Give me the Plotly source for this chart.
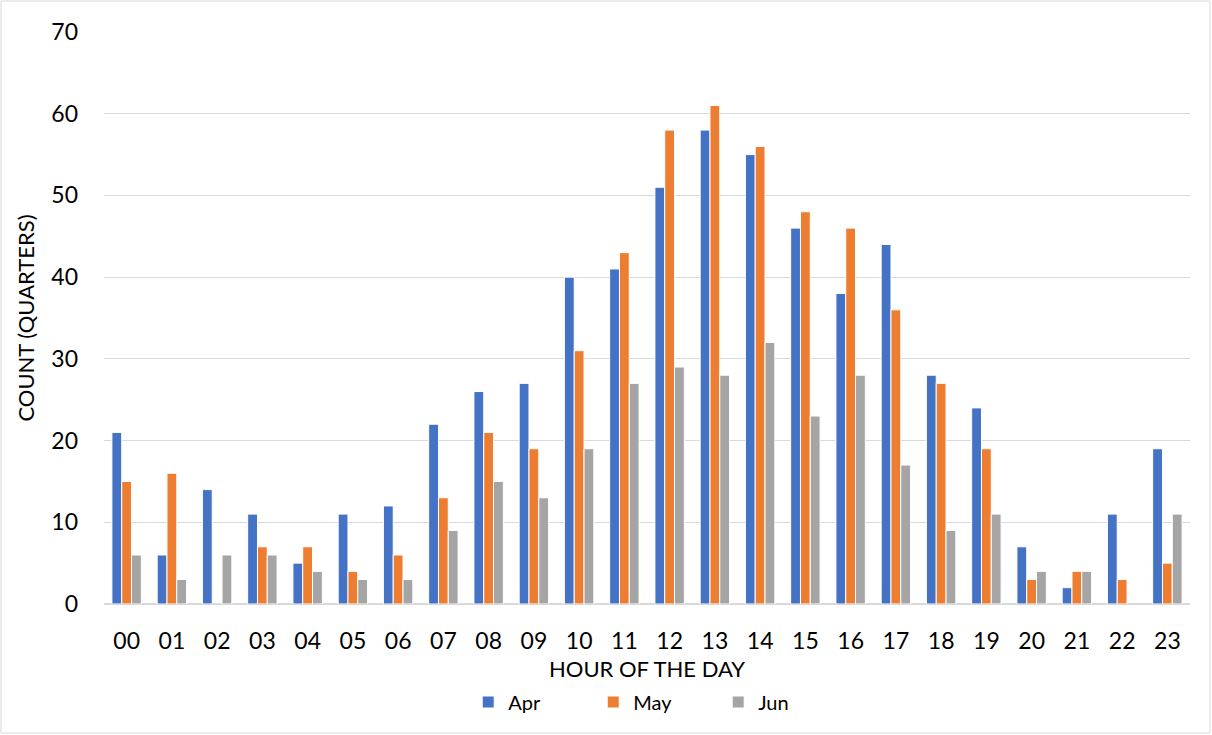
import plotly.graph_objects as go

hours = ["00","01","02","03","04","05","06","07","08","09","10","11",
         "12","13","14","15","16","17","18","19","20","21","22","23"]
apr = [21, 6, 14, 11, 5, 11, 12, 22, 26, 27, 40, 41, 51, 58, 55, 46, 38, 44, 28, 24, 7, 2, 11, 19]
may = [15, 16, None, 7, 7, 4, 6, 13, 21, 19, 31, 43, 58, 61, 56, 48, 46, 36, 27, 19, 3, 4, 3, 5]
jun = [6, 3, 6, 6, 4, 3, 3, 9, 15, 13, 19, 27, 29, 28, 32, 23, 28, 17, 9, 11, 4, 4, None, 11]

series = [("Apr", apr, "#4472C4"), ("May", may, "#ED7D31"), ("Jun", jun, "#A5A5A5")]
FONT = "Lato, Open Sans, sans-serif"

fig = go.Figure()
for name, vals, col in series:
    fig.add_trace(go.Bar(
        x=hours, y=vals, name=name,
        marker=dict(color=col, line=dict(color="white", width=1)),
    ))

L, R, T, B = 104, 22, 32, 131
W, H = 1212, 735
pw, ph = W - L - R, H - T - B

fig.update_layout(
    width=W, height=H,
    margin=dict(l=L, r=R, t=T, b=B),
    paper_bgcolor="white", plot_bgcolor="white",
    barmode="group", bargap=0.35, bargroupgap=0.0,
    font=dict(family=FONT, color="#000000"),
    xaxis=dict(
        title=dict(text="HOUR OF THE DAY", font=dict(size=22, color="#000"), standoff=10),
        tickfont=dict(size=23, color="#000"),
        ticklabelstandoff=16,
        showgrid=False, showline=True, linecolor="#d9d9d9", linewidth=1,
        ticks="", type="category", automargin=False,
    ),
    yaxis=dict(
        title=dict(text="COUNT (QUARTERS)", font=dict(size=22, color="#000"), standoff=10),
        tickfont=dict(size=23, color="#000"),
        ticklabelstandoff=25,
        range=[0, 70], dtick=10, tick0=0,
        showgrid=True, gridcolor="#d9d9d9", gridwidth=1,
        zeroline=True, zerolinecolor="#d9d9d9", ticks="", automargin=False,
    ),
    legend=dict(
        orientation="h", x=0.508, xanchor="center",
        yref="container", y=(H - 702) / H, yanchor="middle",
        font=dict(size=20, color="#000"),
        entrywidth=80, entrywidthmode="pixels", itemwidth=30,
        traceorder="normal",
    ),
    showlegend=True,
)

fig.add_shape(type="rect", xref="paper", yref="paper",
              x0=(1 - L) / pw, x1=(W - 2 - L) / pw,
              y0=-(H - 2 - T - ph) / ph, y1=(T - 1) / ph + 1,
              line=dict(color="#d9d9d9", width=1), fillcolor="rgba(0,0,0,0)", layer="below")

fig.write_html("out.html")
